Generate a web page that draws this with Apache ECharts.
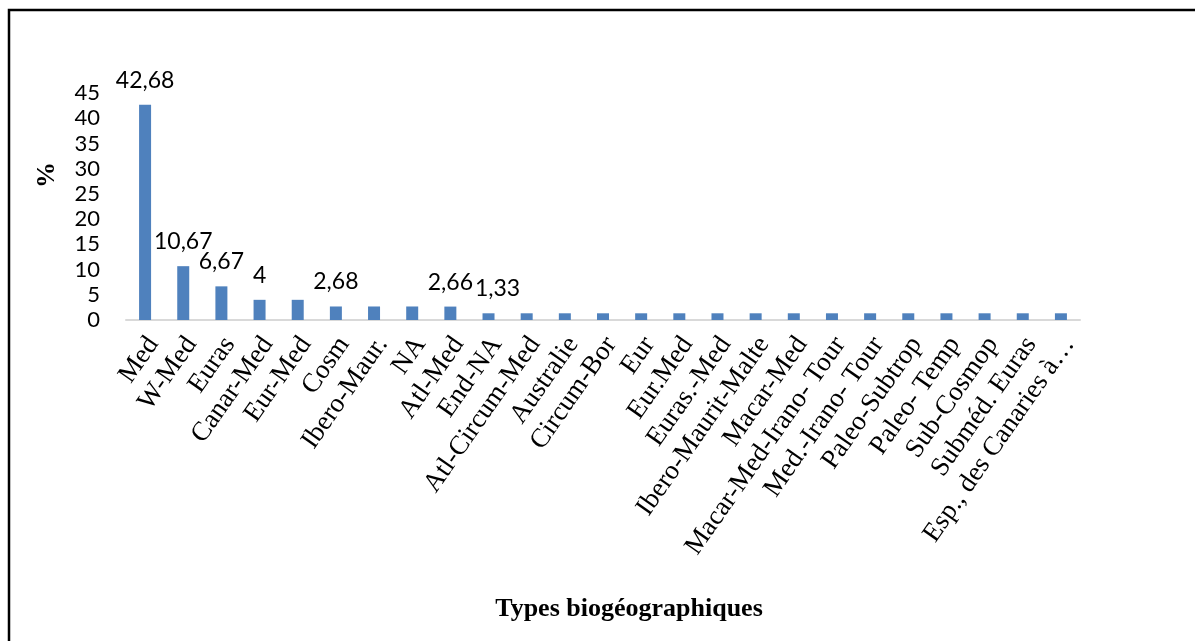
<!DOCTYPE html>
<html>
<head>
<meta charset="utf-8">
<script src="https://cdn.jsdelivr.net/npm/echarts@6/dist/echarts.min.js"></script>
<style>
  html, body { margin: 0; padding: 0; background: #fff; }
  #chart { width: 1195px; height: 641px; }
</style>
</head>
<body>
<div id="chart"></div>
<script>
// Biogeographic types (percent of species)
const categories = [
  'Med', 'W-Med', 'Euras', 'Canar-Med', 'Eur-Med', 'Cosm', 'Ibero-Maur.', 'NA',
  'Atl-Med', 'End-NA', 'Atl-Circum-Med', 'Australie', 'Circum-Bor', 'Eur',
  'Eur.Med', 'Euras.-Med', 'Ibero-Maurit-Malte', 'Macar-Med', 'Macar-Med-Irano- Tour',
  'Med.-Irano- Tour', 'Paleo-Subtrop', 'Paleo- Temp', 'Sub-Cosmop', 'Subméd. Euras',
  'Esp., des Canaries à…'
];
const percentages = [
  42.68, 10.67, 6.67, 4, 4, 2.68, 2.68, 2.68,
  2.66, 1.33, 1.33, 1.33, 1.33, 1.33,
  1.33, 1.33, 1.33, 1.33, 1.33,
  1.33, 1.33, 1.33, 1.33, 1.33,
  1.33
];
// Bars whose value is written above them
const labelledCategories = ['Med', 'W-Med', 'Euras', 'Canar-Med', 'Cosm', 'Atl-Med', 'End-NA'];
const yTicks = { min: 0, max: 45, interval: 5 };

const valueFormat = v => String(v).replace('.', ',');

const barData = categories.map((name, i) => {
  const item = { value: percentages[i] };
  if (labelledCategories.includes(name)) {
    item.label = { show: true };
    if (name === 'End-NA') item.label.offset = [9, 0];
  }
  return item;
});

const chart = echarts.init(document.getElementById('chart'));
chart.setOption({
  animation: false,
  backgroundColor: '#ffffff',
  grid: { left: 126, right: 115, top: 93, bottom: 321, containLabel: false },
  xAxis: {
    type: 'category',
    data: categories,
    name: 'Types biogéographiques',
    nameLocation: 'middle',
    nameGap: 276,
    nameTextStyle: {
      fontFamily: 'Liberation Serif', fontWeight: 'bold', fontSize: 26, color: '#000',
      padding: [0, 0, 0, 52]
    },
    axisLine: { show: true, lineStyle: { color: '#d9d9d9', width: 2 } },
    axisTick: { show: false },
    axisLabel: {
      interval: 0,
      rotate: 55,
      margin: 14,
      verticalAlign: 'top',
      lineHeight: 20,
      fontFamily: 'Liberation Serif',
      fontSize: 27,
      color: '#000'
    }
  },
  yAxis: {
    type: 'value',
    min: yTicks.min,
    max: yTicks.max,
    interval: yTicks.interval,
    axisLine: { show: false },
    axisTick: { show: false },
    splitLine: { show: false },
    axisLabel: {
      margin: 26,
      fontFamily: 'Lato',
      fontSize: 22,
      color: '#000'
    }
  },
  series: [{
    type: 'bar',
    data: barData,
    barWidth: 12,
    itemStyle: { color: '#4f81bd' },
    label: {
      show: false,
      position: 'top',
      distance: 13,
      fontFamily: 'Lato',
      fontSize: 23,
      color: '#000',
      formatter: p => valueFormat(p.value)
    }
  }],
  graphic: [
    {
      type: 'polyline',
      shape: { points: [[9, 641], [9, 10], [1195, 10]] },
      style: { stroke: '#000', lineWidth: 2.5, fill: null },
      silent: true
    },
    {
      type: 'text',
      x: 47, y: 175,
      rotation: Math.PI / 2,
      style: {
        text: '%',
        fontFamily: 'Liberation Serif', fontWeight: 'bold', fontSize: 26,
        fill: '#000', align: 'center', verticalAlign: 'middle'
      }
    }
  ]
});
</script>
</body>
</html>
